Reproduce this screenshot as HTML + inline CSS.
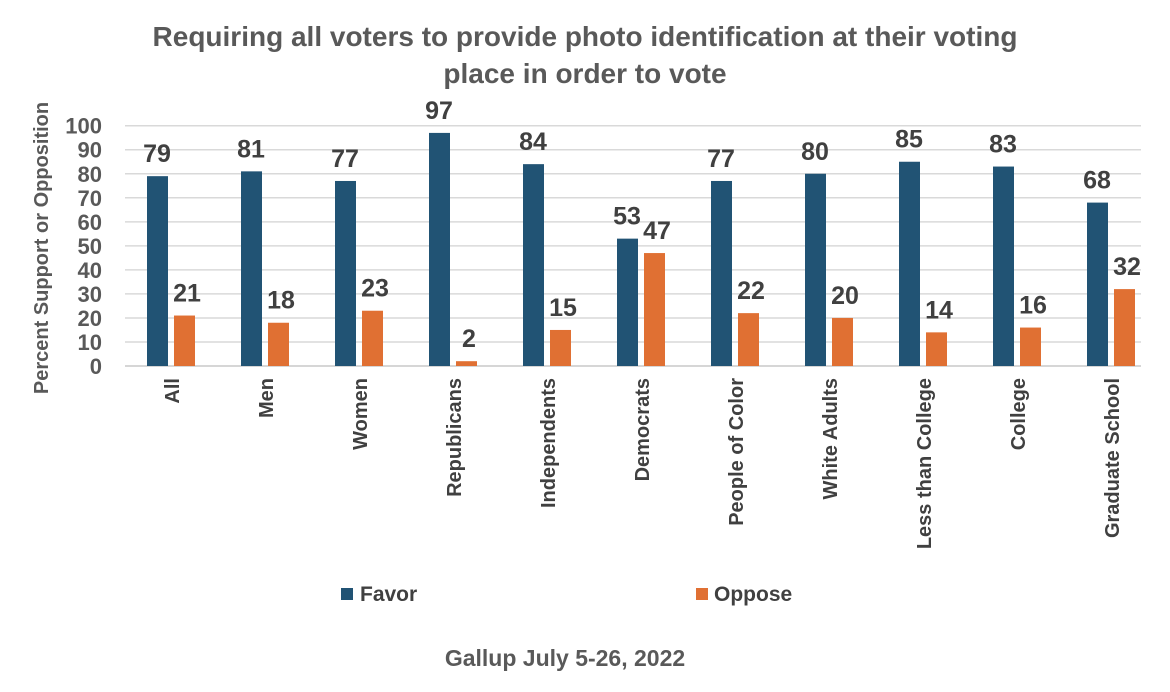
<!DOCTYPE html>
<html><head><meta charset="utf-8"><style>
body{margin:0;background:#fff;}
svg{display:block;font-family:"Liberation Sans",Arial,sans-serif;font-weight:bold;}
</style></head><body>
<svg width="1170" height="692">
<text x="585" y="46" text-anchor="middle" font-size="28" fill="#595959">Requiring all voters to provide photo identification at their voting</text>
<text x="585" y="83" text-anchor="middle" font-size="28" fill="#595959">place in order to vote</text>
<text transform="translate(48,248) rotate(-90)" text-anchor="middle" font-size="20" fill="#595959">Percent Support or Opposition</text>
<g id="grid"></g><g id="bars"></g>
<g>
<rect x="341" y="588" width="12" height="12" fill="#215374"/>
<text x="360" y="601" font-size="21" fill="#404040">Favor</text>
<rect x="696" y="588" width="12" height="12" fill="#E07033"/>
<text x="714" y="601" font-size="21" fill="#404040">Oppose</text>
</g>
<text x="565" y="666" text-anchor="middle" font-size="23" fill="#595959">Gallup July 5-26, 2022</text>
</svg>
<script>
const categories=["All","Men","Women","Republicans","Independents","Democrats","People of Color","White Adults","Less than College","College","Graduate School"];
const favor=[79,81,77,97,84,53,77,80,85,83,68];
const oppose=[21,18,23,2,15,47,22,20,14,16,32];
const ticks=[0,10,20,30,40,50,60,70,80,90,100];
const NS="http://www.w3.org/2000/svg";
const x0=125,step=94,y0=366,yTop=125.7;
const y=v=>y0-(y0-yTop)*v/100;
function mk(t,a,p){const e=document.createElementNS(NS,t);for(const k in a)e.setAttribute(k,a[k]);p.appendChild(e);return e;}
const g=document.getElementById('grid'),b=document.getElementById('bars');
ticks.forEach(t=>{
const l=mk('line',{x1:x0,x2:x0+step*categories.length-18,y1:y(t),y2:y(t),stroke:t===0?'#c8c8c8':'#d9d9d9','stroke-width':1.5},g);


const tx=mk('text',{x:102,y:y(t)+8,'text-anchor':'end','font-size':22,fill:'#595959'},g);tx.textContent=t;


});
categories.forEach((c,i)=>{
const bx=x0+22+i*step;
const r1=mk('rect',{x:bx,y:y(favor[i]),width:21,height:y0-y(favor[i]),fill:'#215374'},b);


const r2=mk('rect',{x:bx+27,y:y(oppose[i]),width:21,height:y0-y(oppose[i]),fill:'#E07033'},b);


const t1=mk('text',{x:bx+10,y:y(favor[i])-14,'text-anchor':'middle','font-size':25,fill:'#404040'},b);t1.textContent=favor[i];


const t2=mk('text',{x:bx+40,y:y(oppose[i])-14,'text-anchor':'middle','font-size':25,fill:'#404040'},b);t2.textContent=oppose[i];


const cx=bx+24;
const ct=mk('text',{transform:`translate(${cx+8},378) rotate(-90)`,'text-anchor':'end','font-size':20,fill:'#404040'},b);ct.textContent=c;


});
</script>
</body></html>
